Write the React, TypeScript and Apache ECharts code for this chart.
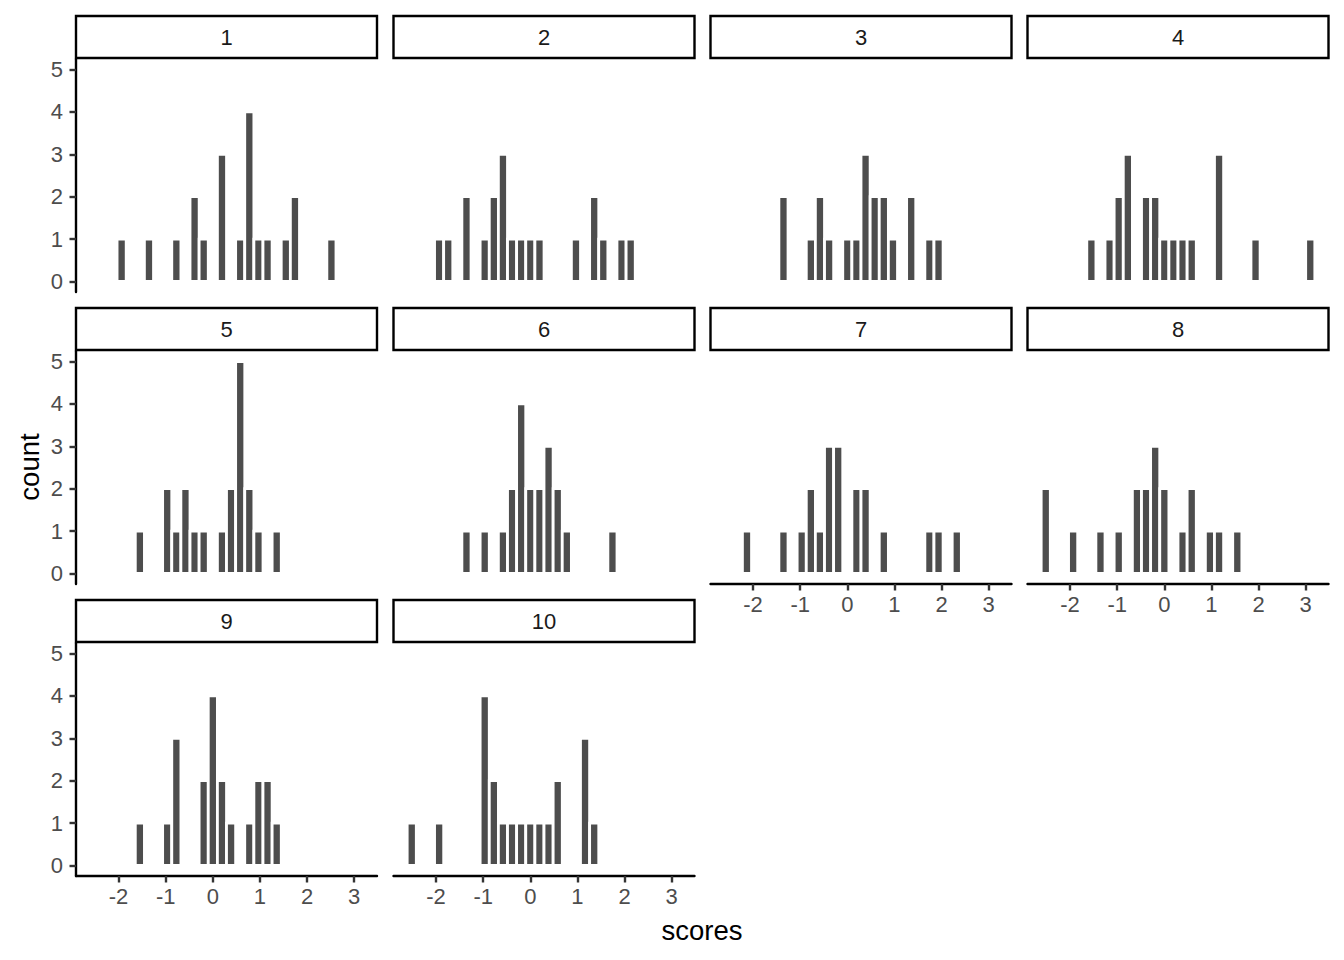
import React, { useEffect, useRef } from "react";
import * as echarts from "echarts";

// Histogram bins (centres, shared by all panels) and bin width
const BIN_WIDTH = 0.1935;
const binCenters = [
  -2.516, -2.322, -2.129, -1.935, -1.742, -1.548, -1.355, -1.161, -0.968, -0.774,
  -0.581, -0.387, -0.194, 0, 0.194, 0.387, 0.581, 0.774, 0.968, 1.161,
  1.355, 1.548, 1.742, 1.935, 2.129, 2.322, 2.516, 2.709, 2.903, 3.096,
];

const panelLabels = ["1", "2", "3", "4", "5", "6", "7", "8", "9", "10"];

// counts per bin for each facet
const counts1 = [0,0,0,1,0,0,1,0,0,1,0,2,1,0,3,0,1,4,1,1,0,1,2,0,0,0,1,0,0,0];
const counts2 = [0,0,0,1,1,0,2,0,1,2,3,1,1,1,1,0,0,0,1,0,2,1,0,1,1,0,0,0,0,0];
const counts3 = [0,0,0,0,0,0,2,0,0,1,2,1,0,1,1,3,2,2,1,0,2,0,1,1,0,0,0,0,0,0];
const counts4 = [0,0,0,0,0,1,0,1,2,3,0,2,2,1,1,1,1,0,0,3,0,0,0,1,0,0,0,0,0,1];
const counts5 = [0,0,0,0,0,1,0,0,2,1,2,1,1,0,1,2,5,2,1,0,1,0,0,0,0,0,0,0,0,0];
const counts6 = [0,0,0,0,0,0,1,0,1,0,1,2,4,2,2,3,2,1,0,0,0,0,1,0,0,0,0,0,0,0];
const counts7 = [0,0,1,0,0,0,1,0,1,2,1,3,3,0,2,2,0,1,0,0,0,0,1,1,0,1,0,0,0,0];
const counts8 = [2,0,0,1,0,0,1,0,1,0,2,2,3,2,0,1,2,0,1,1,0,1,0,0,0,0,0,0,0,0];
const counts9 = [0,0,0,0,0,1,0,0,1,3,0,0,2,4,2,1,0,1,2,2,1,0,0,0,0,0,0,0,0,0];
const counts10 = [1,0,0,1,0,0,0,0,4,2,1,1,1,1,1,1,2,0,0,3,1,0,0,0,0,0,0,0,0,0];

const allCounts = [counts1, counts2, counts3, counts4, counts5, counts6, counts7, counts8, counts9, counts10];

const xTicks = [-2, -1, 0, 1, 2, 3];
const yTicks = [0, 1, 2, 3, 4, 5];

const X_TITLE = "scores";
const Y_TITLE = "count";

const FONT = "'Liberation Sans', Arial, Helvetica, sans-serif";

export default function App() {
  const ref = useRef<HTMLDivElement>(null);

  useEffect(() => {
    if (!ref.current) return;
    const chart = echarts.init(ref.current, null, { renderer: "svg" });

    const colLefts = [76, 393.5, 710.5, 1027.5];
    const panelW = 301;
    const panelH = 233;
    const rowPitch = 292;
    const plotTop0 = 59;
    const stripTop0 = 16;
    const stripH = 42;

    const lo = binCenters[0] - BIN_WIDTH / 2;
    const hi = binCenters[binCenters.length - 1] + BIN_WIDTH / 2;
    const pad = (hi - lo) * 0.05;
    const xMin = lo - pad;
    const xMax = hi + pad;

    const grids: any[] = [];
    const xAxes: any[] = [];
    const yAxes: any[] = [];
    const series: any[] = [];
    const graphics: any[] = [];

    const n = allCounts.length;
    for (let p = 0; p < n; p++) {
      const col = p % 4;
      const row = Math.floor(p / 4);
      const left = colLefts[col];
      const top = plotTop0 + row * rowPitch;
      const showX = p + 4 >= n; // bottom panel of its column
      const showY = col === 0;

      grids.push({ left, top, width: panelW, height: panelH, containLabel: false });

      xAxes.push({
        type: "value",
        gridIndex: p,
        min: xMin,
        max: xMax,
        splitLine: { show: false },
        axisLine: { show: showX, onZero: false, lineStyle: { color: "#000000", width: 2.4 } },
        axisTick: {
          show: showX,
          length: 6.5,
          customValues: xTicks,
          lineStyle: { color: "#333333", width: 2.4 },
        },
        axisLabel: {
          show: showX,
          customValues: xTicks,
          color: "#4D4D4D",
          fontSize: 22,
          fontFamily: FONT,
          margin: 9,
        },
      });

      yAxes.push({
        type: "value",
        gridIndex: p,
        min: -0.25,
        max: 5.25,
        splitLine: { show: false },
        axisLine: { show: showY, onZero: false, lineStyle: { color: "#000000", width: 2.4 } },
        axisTick: {
          show: showY,
          length: 6.5,
          customValues: yTicks,
          lineStyle: { color: "#333333", width: 2.4 },
        },
        axisLabel: {
          show: showY,
          customValues: yTicks,
          color: "#4D4D4D",
          fontSize: 22,
          fontFamily: FONT,
          margin: 13,
        },
      });

      const data = binCenters
        .map((c, i) => [c, allCounts[p][i]])
        .filter((d) => d[1] > 0);

      series.push({
        type: "custom",
        xAxisIndex: p,
        yAxisIndex: p,
        data,
        encode: { x: 0, y: 1 },
        renderItem: (_params: any, api: any) => {
          const c = api.value(0);
          const v = api.value(1);
          const p0 = api.coord([c - BIN_WIDTH / 2, v]);
          const p1 = api.coord([c + BIN_WIDTH / 2, 0]);
          return {
            type: "rect",
            shape: { x: p0[0], y: p0[1], width: p1[0] - p0[0], height: p1[1] - p0[1] },
            style: { fill: "#4D4D4D", stroke: "#FFFFFF", lineWidth: 2.8 },
          };
        },
      });

      const sTop = stripTop0 + row * rowPitch;
      graphics.push({
        type: "rect",
        shape: { x: left, y: sTop, width: panelW, height: stripH },
        style: { fill: "#FFFFFF", stroke: "#000000", lineWidth: 2.4 },
        silent: true,
      });
      graphics.push({
        type: "text",
        x: left + panelW / 2,
        y: sTop + stripH / 2,
        style: {
          text: panelLabels[p],
          fill: "#1A1A1A",
          fontSize: 22,
          fontFamily: FONT,
          align: "center",
          verticalAlign: "middle",
        },
        silent: true,
      });
    }

    graphics.push({
      type: "text",
      x: 702,
      y: 930,
      style: {
        text: X_TITLE,
        fill: "#000000",
        fontSize: 27.5,
        fontFamily: FONT,
        align: "center",
        verticalAlign: "middle",
      },
    });
    graphics.push({
      type: "text",
      x: 29,
      y: 467,
      rotation: Math.PI / 2,
      style: {
        text: Y_TITLE,
        fill: "#000000",
        fontSize: 27.5,
        fontFamily: FONT,
        align: "center",
        verticalAlign: "middle",
      },
    });

    chart.setOption({
      animation: false,
      backgroundColor: "#FFFFFF",
      grid: grids,
      xAxis: xAxes,
      yAxis: yAxes,
      series,
      graphic: graphics,
    });

    return () => chart.dispose();
  }, []);

  return (
    <div
      ref={ref}
      style={{ position: "absolute", left: 0, top: 0, width: 1344, height: 960 }}
    />
  );
}
